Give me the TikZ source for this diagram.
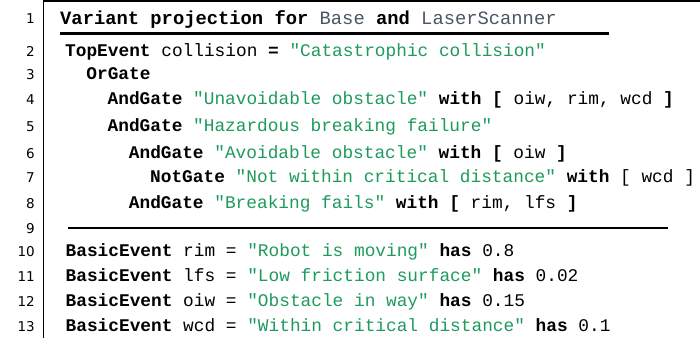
\documentclass[tikz,border=0pt]{standalone}
\usepackage{fontspec}
\setmonofont{Liberation Mono}
\newfontfamily\numfont{DejaVu Sans}
\definecolor{strgreen}{HTML}{1E9A5C}
\definecolor{idgrey}{HTML}{4A5566}
\newcommand{\kw}[1]{\textbf{#1}}
\newcommand{\qstr}[1]{\textcolor{strgreen}{"#1"}}
\newcommand{\ident}[1]{\textcolor{idgrey}{#1}}
\tikzset{
  codeline/.style={anchor=base west, inner sep=0pt, font=\fontsize{17.8}{20}\selectfont\ttfamily},
  titleline/.style={anchor=base west, inner sep=0pt, font=\fontsize{18.8}{21}\selectfont\ttfamily},
  lineno/.style={anchor=base east, inner sep=0pt, font=\fontsize{13.5}{16}\selectfont\numfont},
}
\begin{document}
\begin{tikzpicture}[x=1pt,y=-1pt]
\useasboundingbox (0,0) rectangle (700,338);
% frame: top edge and gutter separator
\draw[line width=1.5pt] (43.5,0.75) -- (700,0.75);
\draw[line width=1.5pt] (43.5,0) -- (43.5,338);
% line numbers
\foreach \n/\y in {1/18,2/51,3/74,4/99,5/126,6/153,7/177,8/203,9/228,10/251,11/276,12/301,13/326}
  \node[lineno] (n\n) at (35,\y+5) {\n};
% title and its rule
\node[titleline] (l1) at (60,24) {\kw{Variant projection for} \ident{Base} \kw{and} \ident{LaserScanner}};
\draw[line width=3pt] (60,33.5) -- (609,33.5);
% fault tree
\node[codeline] (l2) at (65,56.5) {\kw{TopEvent} collision \kw{=} \qstr{Catastrophic collision}};
\node[codeline] (l3) at (86.2,79.5) {\kw{OrGate}};
\node[codeline] (l4) at (107.5,104.5) {\kw{AndGate} \qstr{Unavoidable obstacle} \kw{with [} oiw, rim, wcd \kw{]}};
\node[codeline] (l5) at (107.5,131.5) {\kw{AndGate} \qstr{Hazardous breaking failure}};
\node[codeline] (l6) at (128.7,158.5) {\kw{AndGate} \qstr{Avoidable obstacle} \kw{with [} oiw \kw{]}};
\node[codeline] (l7) at (150,182.5) {\kw{NotGate} \qstr{Not within critical distance} \kw{with} [ wcd ]};
\node[codeline] (l8) at (128.7,208.5) {\kw{AndGate} \qstr{Breaking fails} \kw{with [} rim, lfs \kw{]}};
% separator
\draw[line width=2pt] (68,227.5) -- (668,227.5);
% basic events
\node[codeline] (l10) at (65.5,256.5) {\kw{BasicEvent} rim = \qstr{Robot is moving} \kw{has} 0.8};
\node[codeline] (l11) at (65.5,281.5) {\kw{BasicEvent} lfs = \qstr{Low friction surface} \kw{has} 0.02};
\node[codeline] (l12) at (65.5,306.5) {\kw{BasicEvent} oiw = \qstr{Obstacle in way} \kw{has} 0.15};
\node[codeline] (l13) at (65.5,331.5) {\kw{BasicEvent} wcd = \qstr{Within critical distance} \kw{has} 0.1};
\end{tikzpicture}
\end{document}
